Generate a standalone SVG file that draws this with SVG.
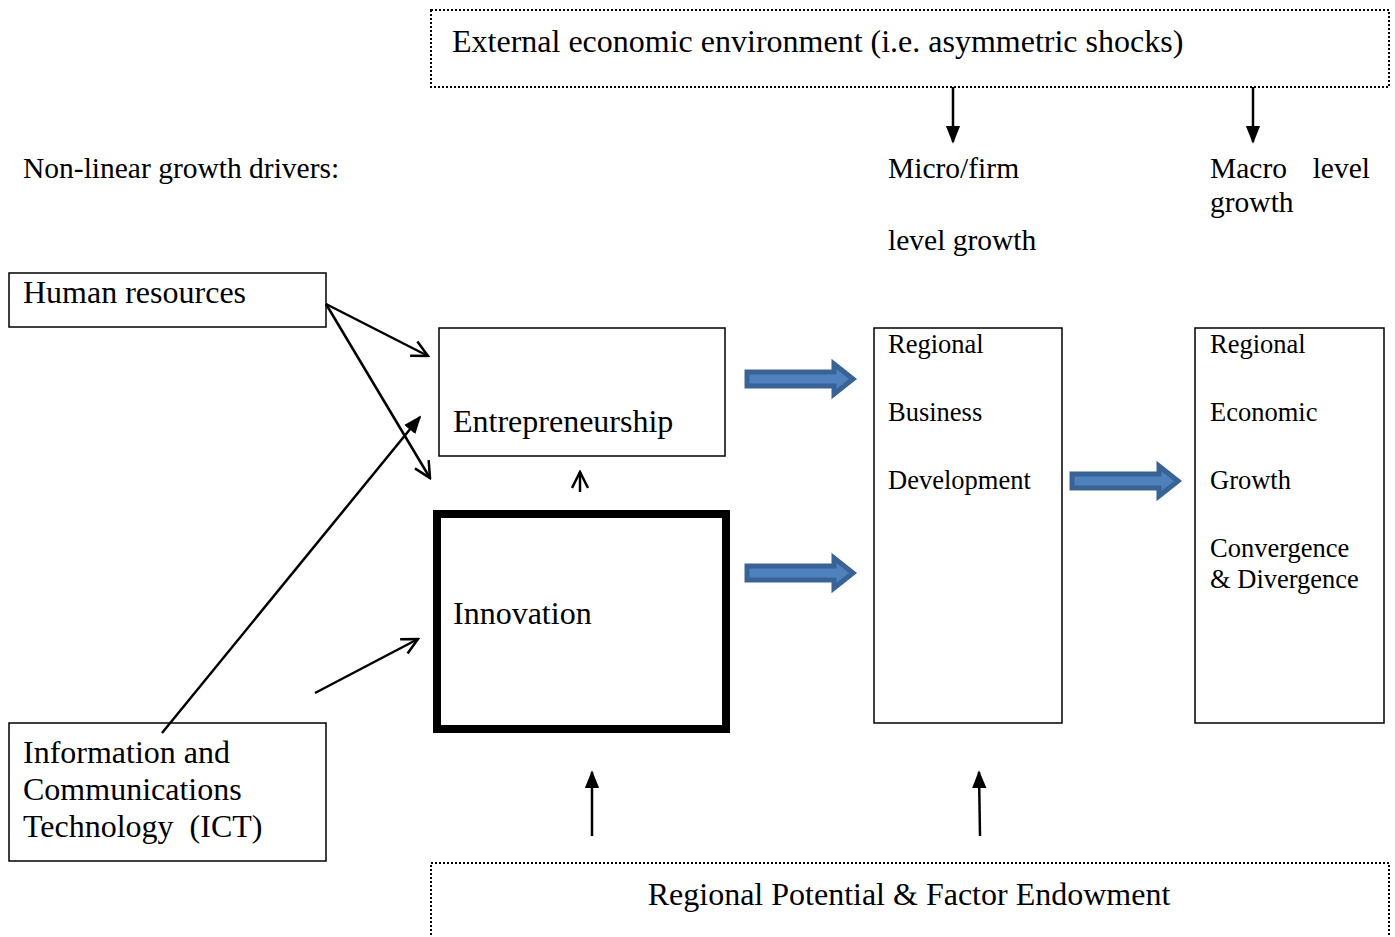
<svg xmlns="http://www.w3.org/2000/svg" width="1395" height="937" viewBox="0 0 1395 937">
<style>
text{font-family:"Liberation Serif","Times New Roman",serif;fill:#000}
.t28{font-size:32px}
.t26{font-size:29.5px}
.t23{font-size:26.5px}
.box{fill:#fff;stroke:#000;stroke-width:1.5}
.dot{fill:#fff;stroke:#000;stroke-width:2;stroke-dasharray:2 2}
.ln{stroke:#000;stroke-width:2.5;fill:none}
.blk{fill:#4F81BD;stroke:#3A6395;stroke-width:5;stroke-linejoin:miter}
</style>
<defs>
<marker id="open" viewBox="0 0 20 20" refX="18" refY="10" markerWidth="20" markerHeight="20" markerUnits="userSpaceOnUse" orient="auto">
<path d="M2,2 L18,10 L2,18" fill="none" stroke="#000" stroke-width="2.5"/>
</marker>
<marker id="fill" viewBox="0 0 20 20" refX="18" refY="10" markerWidth="18" markerHeight="18" markerUnits="userSpaceOnUse" orient="auto">
<path d="M0,2 L20,10 L0,18 Z" fill="#000"/>
</marker>
</defs>

<g id="external">
<rect class="dot" x="431" y="10" width="958" height="77"/>
<text class="t28" x="452" y="52">External economic environment (i.e. asymmetric shocks)</text>
</g>

<g id="labels">
<text class="t26" x="23" y="178">Non-linear growth drivers:</text>
<text class="t26" x="888" y="178">Micro/firm</text>
<text class="t26" x="888" y="250">level growth</text>
<text class="t26" x="1210" y="178">Macro</text>
<text class="t26" x="1370" y="178" text-anchor="end">level</text>
<text class="t26" x="1210" y="212">growth</text>
</g>

<g id="human">
<rect class="box" x="9" y="273" width="317" height="54"/>
<text class="t28" x="23" y="303">Human resources</text>
</g>

<g id="entre">
<rect class="box" x="439" y="328" width="286" height="128"/>
<text class="t28" x="453" y="432">Entrepreneurship</text>
</g>

<g id="innov">
<rect x="437" y="514" width="289" height="215" fill="#fff" stroke="#000" stroke-width="8"/>
<text class="t28" x="453" y="624">Innovation</text>
</g>

<g id="rbd">
<rect class="box" x="874" y="328" width="188" height="395"/>
<text class="t23" x="888" y="353">Regional</text>
<text class="t23" x="888" y="421">Business</text>
<text class="t23" x="888" y="489">Development</text>
</g>

<g id="reg">
<rect class="box" x="1195" y="328" width="189" height="395"/>
<text class="t23" x="1210" y="353">Regional</text>
<text class="t23" x="1210" y="421">Economic</text>
<text class="t23" x="1210" y="489">Growth</text>
<text class="t23" x="1210" y="557">Convergence</text>
<text class="t23" x="1210" y="588">&amp; Divergence</text>
</g>

<g id="ict">
<rect class="box" x="9" y="723" width="317" height="138"/>
<text class="t28" x="23" y="763">Information and</text>
<text class="t28" x="23" y="800">Communications</text>
<text class="t28" x="23" y="837">Technology&#160; (ICT)</text>
</g>

<g id="potential">
<rect class="dot" x="431" y="863" width="958" height="90"/>
<text class="t28" x="909" y="905" text-anchor="middle">Regional Potential &amp; Factor Endowment</text>
</g>

<g id="connectors">
<line class="ln" x1="953" y1="87" x2="953" y2="142" marker-end="url(#fill)"/>
<line class="ln" x1="1253" y1="87" x2="1253" y2="142" marker-end="url(#fill)"/>
<line class="ln" x1="326" y1="304" x2="428" y2="356" marker-end="url(#open)"/>
<line class="ln" x1="326" y1="304" x2="430" y2="478" marker-end="url(#open)"/>
<line class="ln" x1="162" y1="733" x2="420" y2="417" marker-end="url(#fill)"/>
<line class="ln" x1="315" y1="693" x2="418" y2="639" marker-end="url(#open)"/>
<line class="ln" x1="580" y1="492" x2="580" y2="472" marker-end="url(#open)"/>
<line class="ln" x1="592" y1="836" x2="592" y2="772" marker-end="url(#fill)"/>
<line class="ln" x1="980" y1="836" x2="979" y2="772" marker-end="url(#fill)"/>
<path class="blk" d="M747,372 L834,372 L834,364 L853,379 L834,394 L834,386 L747,386 Z"/>
<path class="blk" d="M747,566 L834,566 L834,558 L853,573 L834,588 L834,580 L747,580 Z"/>
<path class="blk" d="M1072,474 L1159,474 L1159,466 L1178,481 L1159,496 L1159,488 L1072,488 Z"/>
</g>
</svg>
